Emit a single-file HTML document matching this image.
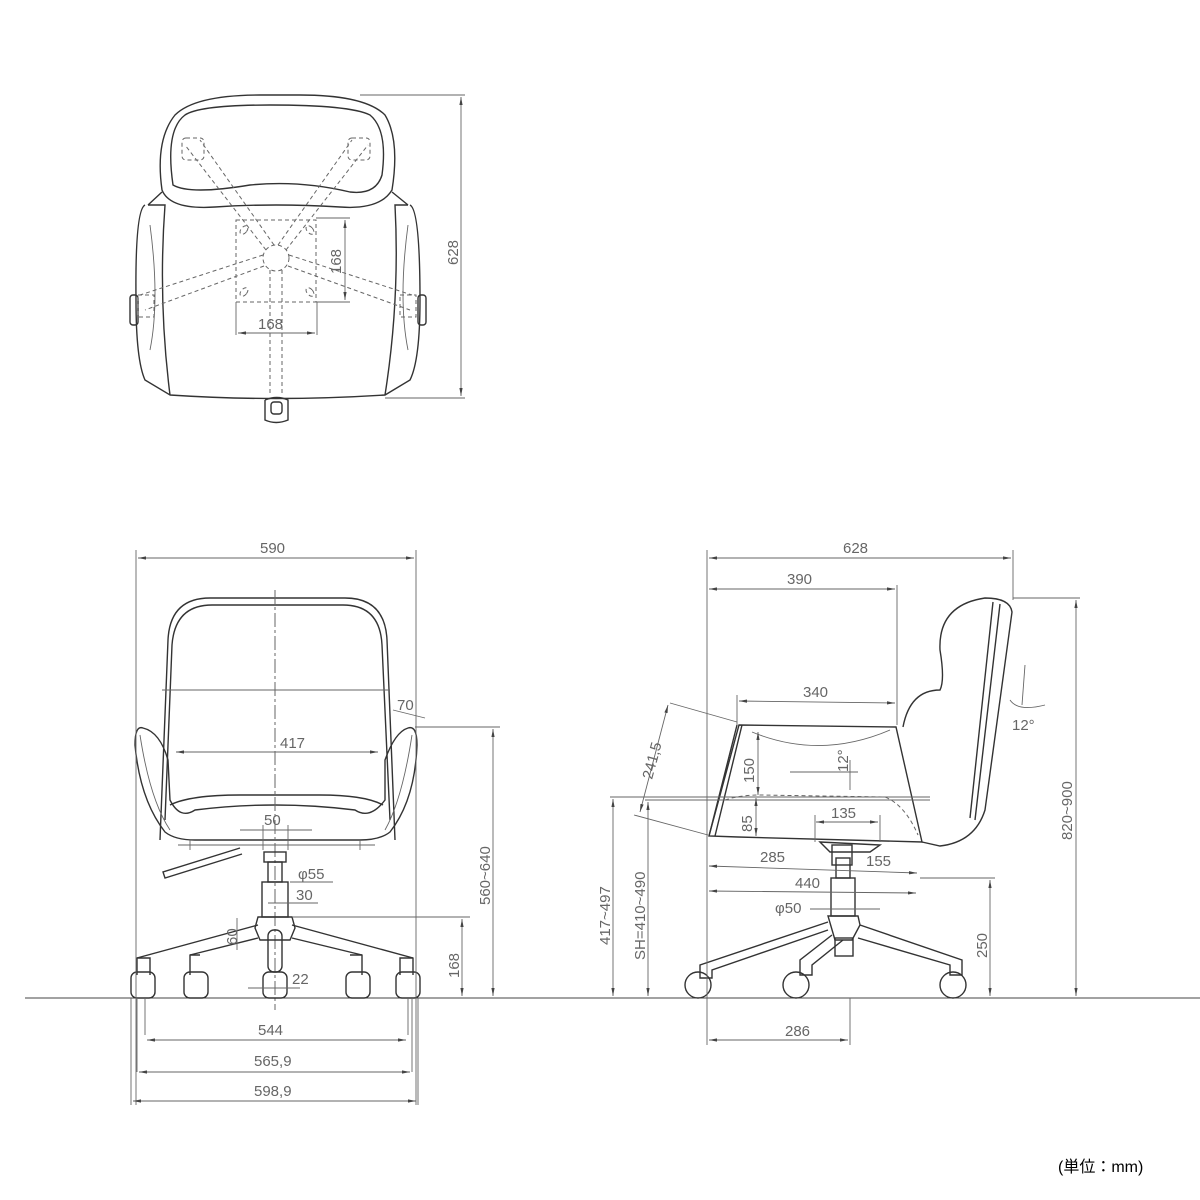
<!DOCTYPE html>
<html><head><meta charset="utf-8"><style>
html,body{margin:0;padding:0;background:#fff;}
svg{display:block}
text{font-family:"Liberation Sans",sans-serif;fill:#666;font-size:15px}
.l{stroke:#333;stroke-width:1.4;fill:none}
.t{stroke:#666;stroke-width:0.9;fill:none}
.d{stroke:#666;stroke-width:1;fill:none;stroke-dasharray:4 3}
.c{stroke:#666;stroke-width:1;fill:none;stroke-dasharray:14 3 3 3}
</style></head><body>
<svg width="1200" height="1200" viewBox="0 0 1200 1200">
<defs>
<marker id="a" viewBox="0 0 10 10" refX="10" refY="5" markerWidth="9" markerHeight="9" orient="auto-start-reverse"><path d="M0,3 L10,5 L0,7 z" fill="#444"/></marker>
</defs>

<!-- ============ TOP VIEW ============ -->
<g>
<path class="l" d="M162,190 Q155,140 175,115 Q195,95 260,95 L300,95 Q365,95 385,115 Q400,140 392,190 Q380,210 340,207 Q275,203 215,207 Q170,210 162,190 Z"/>
<path class="l" d="M173,185 Q165,130 185,115 Q200,105 270,105 Q350,105 370,115 Q388,130 382,175 Q376,195 350,192 Q300,180 250,185 Q190,195 173,185 Z"/>
<path class="l" d="M148,205 L162,192 M392,192 L408,205"/>
<path class="l" d="M145,205 Q135,210 136,300 Q136,360 145,380 L170,395 Q275,402 385,395 L410,380 Q420,360 420,300 Q420,210 410,205"/>
<path class="l" d="M148,205 L165,205 Q158,300 170,395 M408,205 L395,205 Q400,300 385,395"/>
<path class="t" d="M150,225 Q160,300 150,350 M408,225 Q398,300 408,350"/>
<rect class="l" x="130" y="295" width="8" height="30" rx="3"/><rect class="l" x="418" y="295" width="8" height="30" rx="3"/>
<path class="l" d="M265,400 L265,420 Q276,425 288,420 L288,400 Q277,395 265,400"/>
<rect class="l" x="271" y="402" width="11" height="12" rx="3"/>
<!-- dashed star -->
<circle class="d" cx="276" cy="258" r="13"/>
<path class="d" d="M266,250 L185,145 M274,245 L200,140 M286,250 L368,145 M278,245 L352,140 M263,255 L140,295 M264,266 L145,310 M289,255 L412,295 M288,266 L410,310 M270,270 L270,395 M282,270 L282,395"/>
<rect class="d" x="182" y="138" width="22" height="22" rx="4"/><rect class="d" x="348" y="138" width="22" height="22" rx="4"/>
<rect class="d" x="138" y="295" width="16" height="22"/><rect class="d" x="400" y="295" width="16" height="22"/>
<rect class="d" x="236" y="220" width="80" height="82"/>
<ellipse class="d" cx="244" cy="230" rx="3" ry="5" transform="rotate(40 244 230)"/><ellipse class="d" cx="310" cy="230" rx="3" ry="5" transform="rotate(-40 310 230)"/>
<ellipse class="d" cx="244" cy="292" rx="3" ry="5" transform="rotate(40 244 292)"/><ellipse class="d" cx="310" cy="292" rx="3" ry="5" transform="rotate(-40 310 292)"/>
<path class="t" d="M316,218 L350,218 M316,302 L350,302 M236,302 L236,335 M317,302 L317,335"/>
<line class="t" x1="345" y1="220" x2="345" y2="300" marker-start="url(#a)" marker-end="url(#a)"/>
<line class="t" x1="238" y1="333" x2="315" y2="333" marker-start="url(#a)" marker-end="url(#a)"/>
<text x="258" y="329">168</text>
<text transform="translate(341,274) rotate(-90)">168</text>
<path class="t" d="M360,95 L465,95 M385,398 L465,398"/>
<line class="t" x1="461" y1="97" x2="461" y2="396" marker-start="url(#a)" marker-end="url(#a)"/>
<text transform="translate(458,265) rotate(-90)">628</text>
</g>

<!-- ground -->
<line x1="25" y1="998" x2="1200" y2="998" stroke="#444" stroke-width="1"/>

<!-- ============ FRONT VIEW ============ -->
<g>
<path class="l" d="M160,840 L168,640 Q170,598 210,598 L345,598 Q385,598 387,640 L395,840"/>
<path class="l" d="M165,820 L172,645 Q175,605 212,605 L343,605 Q380,605 382,645 L390,820"/>
<path class="t" d="M162,690 L390,690"/>
<path class="l" d="M143,728 Q135,725 135,745 Q140,800 165,832 Q175,840 195,840 L360,840 Q380,840 390,832 Q415,800 417,745 Q417,725 408,728 Q395,732 385,760 L385,800 Q370,820 355,810 Q275,800 195,810 Q180,820 170,800 L168,760 Q160,732 143,728 Z"/>
<path class="t" d="M140,735 Q150,800 170,830 M412,735 Q402,800 385,830"/>
<path class="l" d="M170,805 Q190,795 240,795 L320,795 Q365,795 383,805"/>
<path class="t" d="M178,845 L375,845 M190,840 L190,850 M360,840 L360,850"/>
<path class="l" d="M240,848 L163,872 L165,878 L242,854"/>
<line class="c" x1="275" y1="590" x2="275" y2="1010"/>
<rect class="l" x="264" y="852" width="22" height="10"/>
<rect class="l" x="268" y="862" width="14" height="20"/>
<rect class="l" x="262" y="882" width="26" height="35"/>
<path class="l" d="M258,917 L292,917 L295,928 L290,940 L260,940 L255,928 Z"/>
<rect class="l" x="268" y="930" width="14" height="42" rx="6"/>
<path class="l" d="M258,925 L137,958 L137,975 M258,938 L190,955 L190,975 M292,925 L413,958 L413,975 M292,938 L362,955 L362,975"/>
<path class="l" d="M137,958 L150,958 L150,975 M190,955 L200,955 M413,958 L400,958 L400,975 M362,955 L350,955"/>
<g class="l">
<rect x="131" y="972" width="24" height="26" rx="6"/><rect x="184" y="972" width="24" height="26" rx="6"/>
<rect x="263" y="972" width="24" height="26" rx="6"/><rect x="346" y="972" width="24" height="26" rx="6"/>
<rect x="396" y="972" width="24" height="26" rx="6"/>
</g>
<path class="t" d="M136,550 L136,1105 M416,550 L416,1105 M145,998 L145,1035 M408,998 L408,1035 M137,998 L137,1072 M412,998 L412,1072 M131,998 L131,1105 M418,998 L418,1105"/>
<line class="t" x1="138" y1="558" x2="414" y2="558" marker-start="url(#a)" marker-end="url(#a)"/>
<text x="260" y="553">590</text>
<line class="t" x1="176" y1="752" x2="378" y2="752" marker-start="url(#a)" marker-end="url(#a)"/>
<text x="280" y="748">417</text>
<line class="t" x1="147" y1="1040" x2="406" y2="1040" marker-start="url(#a)" marker-end="url(#a)"/><text x="258" y="1035">544</text>
<line class="t" x1="139" y1="1072" x2="410" y2="1072" marker-start="url(#a)" marker-end="url(#a)"/><text x="254" y="1066">565,9</text>
<line class="t" x1="133" y1="1101" x2="416" y2="1101" marker-start="url(#a)" marker-end="url(#a)"/><text x="254" y="1096">598,9</text>
<path class="t" d="M415,727 L500,727 M292,917 L470,917"/>
<line class="t" x1="493" y1="729" x2="493" y2="996" marker-start="url(#a)" marker-end="url(#a)"/>
<text transform="translate(490,905) rotate(-90)">560~640</text>
<line class="t" x1="462" y1="919" x2="462" y2="996" marker-start="url(#a)" marker-end="url(#a)"/>
<text transform="translate(459,978) rotate(-90)">168</text>
<text x="397" y="710">70</text><path class="t" d="M393,710 L425,718"/>
<text x="264" y="825">50</text><path class="t" d="M240,830 L312,830 M263,825 L263,850 M288,825 L288,850"/>
<text x="298" y="879">φ55</text><path class="t" d="M290,882 L333,882"/>
<text x="296" y="900">30</text><path class="t" d="M268,903 L318,903"/>
<text transform="translate(237,945) rotate(-90)">60</text><path class="t" d="M237,918 L237,950"/>
<text x="292" y="984">22</text><path class="t" d="M248,988 L300,988"/>
</g>

<!-- ============ SIDE VIEW ============ -->
<g>
<path class="l" d="M739,725 L896,727 L922,842 L738,837 L709,836 Z"/>
<path class="l" d="M709,836 L737,725 M715,836 L742,725"/>
<path class="t" d="M752,732 Q820,760 890,730"/>
<path class="d" d="M725,800 Q740,795 760,795 L885,797 Q905,805 918,835"/>
<path class="l" d="M903,727 Q910,690 940,690 Q945,680 940,650 Q938,605 985,598 Q1010,598 1012,612 L985,810 Q975,842 940,846 L922,842"/>
<path class="l" d="M1000,604 L975,820 M993,602 L970,818"/>
<path class="l" d="M820,842 L880,845 L870,852 L830,852 Z"/>
<rect class="l" x="832" y="845" width="20" height="20"/>
<rect class="l" x="836" y="858" width="14" height="20"/>
<rect class="l" x="831" y="878" width="24" height="38"/>
<path class="l" d="M828,916 L858,916 L860,925 L852,940 L835,940 Z"/>
<rect class="l" x="835" y="938" width="18" height="18"/>
<path class="l" d="M828,922 L700,965 L700,978 L712,978 L712,970 L828,930 M832,935 L800,960 L800,975 L812,975 L812,965 L843,940 M860,925 L962,960 L962,975 L950,975 L950,965 L858,938"/>
<circle class="l" cx="698" cy="985" r="13"/><circle class="l" cx="796" cy="985" r="13"/><circle class="l" cx="953" cy="985" r="13"/>
<path class="t" d="M707,550 L707,1045 M1013,550 L1013,600 M897,585 L897,725 M737,695 L737,725 M850,998 L850,1045"/>
<line class="t" x1="709" y1="558" x2="1011" y2="558" marker-start="url(#a)" marker-end="url(#a)"/><text x="843" y="553">628</text>
<line class="t" x1="709" y1="589" x2="895" y2="589" marker-start="url(#a)" marker-end="url(#a)"/><text x="787" y="584">390</text>
<line class="t" x1="739" y1="701" x2="895" y2="703" marker-start="url(#a)" marker-end="url(#a)"/><text x="803" y="697">340</text>
<path class="t" d="M1013,598 L1080,598"/>
<line class="t" x1="1076" y1="600" x2="1076" y2="996" marker-start="url(#a)" marker-end="url(#a)"/>
<text transform="translate(1072,840) rotate(-90)">820~900</text>
<path class="t" d="M920,878 L995,878"/>
<line class="t" x1="990" y1="880" x2="990" y2="996" marker-start="url(#a)" marker-end="url(#a)"/>
<text transform="translate(987,958) rotate(-90)">250</text>
<path class="t" d="M610,797 L930,797 M645,800 L930,800"/>
<line class="t" x1="613" y1="799" x2="613" y2="996" marker-start="url(#a)" marker-end="url(#a)"/>
<text transform="translate(610,945) rotate(-90)">417~497</text>
<line class="t" x1="648" y1="802" x2="648" y2="996" marker-start="url(#a)" marker-end="url(#a)"/>
<text transform="translate(645,960) rotate(-90)">SH=410~490</text>
<path class="t" d="M670,703 L737,722 M634,815 L708,835"/>
<line class="t" x1="668" y1="705" x2="640" y2="812" marker-start="url(#a)" marker-end="url(#a)"/>
<text transform="translate(652,780) rotate(-75)">241,5</text>
<line class="t" x1="758" y1="732" x2="758" y2="795" marker-start="url(#a)" marker-end="url(#a)"/>
<text transform="translate(754,783) rotate(-90)">150</text>
<line class="t" x1="756" y1="798" x2="756" y2="836" marker-start="url(#a)" marker-end="url(#a)"/>
<text transform="translate(752,832) rotate(-90)">85</text>
<path class="t" d="M790,772 L858,772 M850,760 L850,790"/>
<text transform="translate(848,772) rotate(-90)">12°</text>
<line class="t" x1="816" y1="822" x2="878" y2="822" marker-start="url(#a)" marker-end="url(#a)"/><text x="831" y="818">135</text>
<path class="t" d="M815,815 L815,842 M880,815 L880,842"/>
<line class="t" x1="709" y1="866" x2="917" y2="873" marker-start="url(#a)" marker-end="url(#a)"/><text x="760" y="862">285</text>
<text x="866" y="866">155</text>
<line class="t" x1="709" y1="891" x2="916" y2="893" marker-start="url(#a)" marker-end="url(#a)"/><text x="795" y="888">440</text>
<text x="775" y="913">φ50</text><path class="t" d="M810,909 L880,909"/>
<line class="t" x1="709" y1="1040" x2="848" y2="1040" marker-start="url(#a)" marker-end="url(#a)"/><text x="785" y="1036">286</text>
<path class="t" d="M1025,665 L1022,705 M1010,700 Q1018,712 1045,705"/>
<text x="1012" y="730">12°</text>
</g>

<text x="1058" y="1172" style="fill:#000;font-size:16px;font-family:'Liberation Sans','Noto Sans CJK JP',sans-serif">(単位：mm)</text>
</svg>
</body></html>
